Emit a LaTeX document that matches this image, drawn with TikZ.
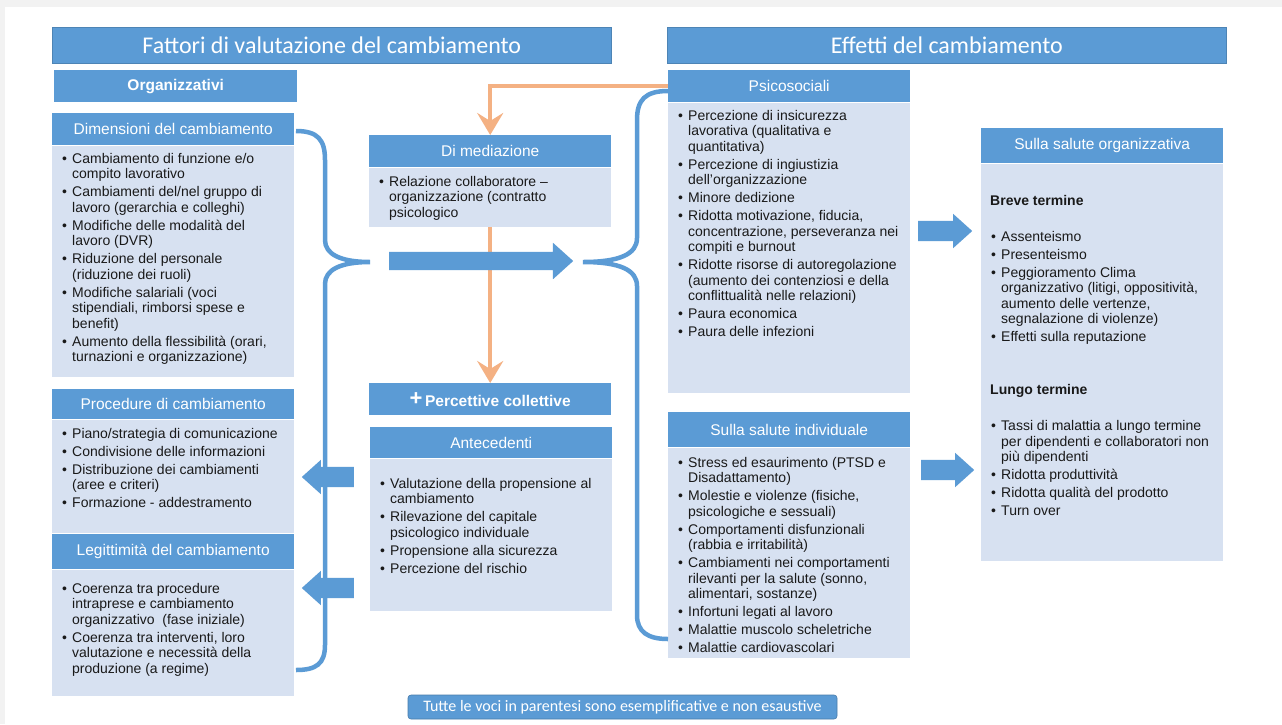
\documentclass[tikz,border=0pt]{standalone}
\usepackage{fontspec}
\setmainfont{Liberation Sans}
\newfontfamily\carlito{Carlito}
\usetikzlibrary{shapes.arrows,arrows.meta}

\definecolor{blu}{RGB}{91,155,213}
\definecolor{azzurro}{RGB}{215,225,241}
\definecolor{arancio}{RGB}{244,177,131}
\definecolor{grigio}{RGB}{242,242,242}

\newcommand{\voce}[1]{\par\hangindent=16pt\hangafter=1\noindent\hbox to 16pt{\hskip6pt\textbullet\hfil}#1}
\newcommand{\elenco}[3]{\parbox[t][#1][t]{234pt}{\fontsize{14}{15.5}\selectfont\raggedright\let\\\newline\parskip=2.5pt\vspace*{#2}#3\par}}

\begin{document}
\begin{tikzpicture}[x=1pt, y=-1pt,
    titolo/.style={fill=blu, draw=blu!85!black, line width=0.6pt, text=white, font=\carlito\fontsize{24}{28}\selectfont, minimum width=559pt, minimum height=36pt, inner sep=0pt, anchor=north west},
    testata/.style={fill=blu, text=white, font=\fontsize{15.5}{18}\selectfont, minimum width=242pt, minimum height=32pt, inner sep=0pt, anchor=north west},
    corpo/.style={fill=azzurro, text=black!90, minimum width=242pt, inner sep=0pt, anchor=north west},
    freccia/.style={single arrow, fill=blu, inner xsep=0pt, inner ysep=10pt, single arrow head extend=7pt, single arrow tip angle=84, anchor=tail},
    connettore/.style={draw=arancio, line width=4.5pt, -{Stealth[length=22pt, width=26pt, inset=8pt]}},
    graffa/.style={draw=blu, line width=4.5pt}]
    \useasboundingbox (0,0) rectangle (1282,724);
    \fill[grigio] (0,0) rectangle (1282,724);
    \fill[white] (5,7) rectangle (1282,724);

    \node[titolo] (tSx) at (52,27) {Fattori di valutazione del cambiamento};
    \node[titolo] (tDx) at (667,27) {Effetti del cambiamento};
    \node[testata, minimum width=243pt, font=\bfseries\fontsize{15.5}{18}\selectfont] (org) at (54,70) {Organizzativi};

    % colonna sinistra
    \node[testata] (dimH) at (52,113) {Dimensioni del cambiamento};
    \node[corpo] (dimB) at (dimH.south west) {\elenco{231pt}{5pt}{%
        \voce{Cambiamento di funzione e/o\\compito lavorativo}
        \voce{Cambiamenti del/nel gruppo di\\lavoro (gerarchia e colleghi)}
        \voce{Modifiche delle modalità del\\lavoro (DVR)}
        \voce{Riduzione del personale\\(riduzione dei ruoli)}
        \voce{Modifiche salariali (voci\\stipendiali, rimborsi spese e\\benefit)}
        \voce{Aumento della flessibilità (orari,\\turnazioni e organizzazione)}}};
    \node[testata, minimum height=30pt] (proH) at (52,389) {Procedure di cambiamento};
    \node[corpo] (proB) at (proH.south west) {\elenco{113pt}{6pt}{%
        \voce{Piano/strategia di comunicazione}
        \voce{Condivisione delle informazioni}
        \voce{Distribuzione dei cambiamenti\\(aree e criteri)}
        \voce{Formazione - addestramento}}};
    \node[testata, minimum height=35pt] (legH) at (52,534) {Legittimità del cambiamento};
    \node[corpo] (legB) at (legH.south west) {\elenco{126pt}{11pt}{%
        \voce{Coerenza tra procedure\\intraprese e cambiamento\\organizzativo\ \ (fase iniziale)}
        \voce{Coerenza tra interventi, loro\\valutazione e necessità della\\produzione (a regime)}}};

    % colonna centrale
    \node[testata] (medH) at (369,135) {Di mediazione};
    \node[corpo] (medB) at (medH.south west) {\elenco{59pt}{6pt}{%
        \voce{Relazione collaboratore --\\organizzazione (contratto\\psicologico}}};
    \node[testata, font=\bfseries\fontsize{15.5}{18}\selectfont] (perc) at (369,383) {\raisebox{1pt}{\fontsize{22}{22}\selectfont +}\,Percettive collettive};
    \node[testata, minimum height=31pt] (antH) at (370,427) {Antecedenti};
    \node[corpo] (antB) at (antH.south west) {\elenco{152pt}{17pt}{%
        \voce{Valutazione della propensione al\\cambiamento}
        \voce{Rilevazione del capitale\\psicologico individuale}
        \voce{Propensione alla sicurezza}
        \voce{Percezione del rischio}}};

    % effetti
    \node[testata] (psiH) at (668,70) {Psicosociali};
    \node[corpo] (psiB) at (psiH.south west) {\elenco{290pt}{5pt}{%
        \voce{Percezione di insicurezza\\lavorativa (qualitativa e\\quantitativa)}
        \voce{Percezione di ingiustizia\\dell’organizzazione}
        \voce{Minore dedizione}
        \voce{Ridotta motivazione, fiducia,\\concentrazione, perseveranza nei\\compiti e burnout}
        \voce{Ridotte risorse di autoregolazione\\(aumento dei contenziosi e della\\conflittualità nelle relazioni)}
        \voce{Paura economica}
        \voce{Paura delle infezioni}}};
    \node[testata, minimum height=35pt] (indH) at (668,412) {Sulla salute individuale};
    \node[corpo] (indB) at (indH.south west) {\elenco{210pt}{7pt}{%
        \voce{Stress ed esaurimento (PTSD e\\Disadattamento)}
        \voce{Molestie e violenze (fisiche,\\psicologiche e sessuali)}
        \voce{Comportamenti disfunzionali\\(rabbia e irritabilità)}
        \voce{Cambiamenti nei comportamenti\\rilevanti per la salute (sonno,\\alimentari, sostanze)}
        \voce{Infortuni legati al lavoro}
        \voce{Malattie muscolo scheletriche}
        \voce{Malattie cardiovascolari}}};
    \node[testata, minimum height=35pt] (salH) at (981,128) {Sulla salute organizzativa};
    \node[corpo] (salB) at (salH.south west) {\elenco{397pt}{29pt}{%
        \hspace*{5pt}\textbf{Breve termine}\par\vspace{18pt}
        \voce{Assenteismo}
        \voce{Presenteismo}
        \voce{Peggioramento Clima\\organizzativo\ (litigi, oppositività,\\aumento delle vertenze,\\segnalazione di violenze)}
        \voce{Effetti sulla reputazione}
        \par\vspace{35pt}\hspace*{5pt}\textbf{Lungo termine}\par\vspace{18pt}
        \voce{Tassi di malattia a lungo termine\\per dipendenti e collaboratori non\\più dipendenti}
        \voce{Ridotta produttività}
        \voce{Ridotta qualità del prodotto}
        \voce{Turn over}}};

    \draw[connettore] (psiH.west) -| (medH.north);
    \draw[connettore] (medB.south) -- (perc.north);

    \draw[graffa] (296,131) .. controls (318,131) and (325,140) .. (325,160) -- (325,240)
        .. controls (325,254) and (340,262) .. (370,262) .. controls (340,262) and (325,270) .. (325,284)
        -- (325,645) .. controls (325,664) and (316,670) .. (296,670);
    \draw[graffa] (668,91) .. controls (645,91) and (637,100) .. (637,120) -- (637,238)
        .. controls (637,254) and (620,262) .. (583,262) .. controls (620,262) and (637,270) .. (637,286)
        -- (637,615) .. controls (637,632) and (648,639) .. (668,639);

    \node[freccia, inner ysep=9pt, single arrow head extend=9pt, minimum height=184pt] (fC) at (389,261) {};
    \node[freccia, shape border rotate=180, minimum height=52pt] (fS1) at (354,477) {};
    \node[freccia, shape border rotate=180, minimum height=52pt] (fS2) at (354,588) {};
    \node[freccia, minimum height=54pt] (fD1) at (918,231) {};
    \node[freccia, minimum height=53pt] (fD2) at (921,470) {};

    \node[fill=blu, draw=blu!80!black, line width=0.6pt, rounded corners=3pt, text=white, font=\carlito\fontsize{16}{18}\selectfont, minimum width=429pt, minimum height=24pt, inner sep=0pt] (nota) at (622.5,707) {Tutte le voci in parentesi sono esemplificative e non esaustive};
\end{tikzpicture}
\end{document}
